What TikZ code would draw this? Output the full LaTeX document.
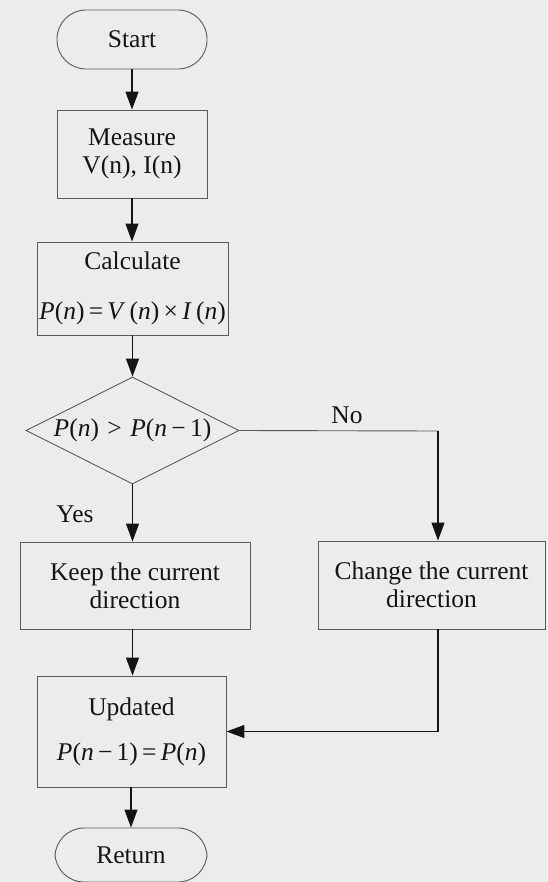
\documentclass[tikz,border=0pt]{standalone}
\usepackage{fontspec}
\setmainfont{Liberation Serif}
\usetikzlibrary{shapes.geometric,arrows.meta}
\definecolor{paper}{RGB}{236,236,236}
\definecolor{edge}{RGB}{90,90,90}
\definecolor{ink}{RGB}{20,20,20}
\newcommand{\vv}[1]{\textit{#1}}
\begin{document}
\begin{tikzpicture}[x=1pt,y=-1pt,
  every node/.style={font=\fontsize{25.5}{28}\selectfont, text=ink},
  procbox/.style={draw=edge, line width=0.9pt, rectangle, align=center, inner sep=0pt},
  termbox/.style={draw=edge, line width=0.9pt, rectangle, rounded corners=29pt, inner sep=0pt},
  decbox/.style={draw=edge, line width=0.9pt, diamond, aspect=2, inner sep=0pt},
  flow/.style={draw=ink, line width=1.1pt, -{Triangle[length=18pt,width=13pt]}},
  plain/.style={draw=edge, line width=0.9pt}
]
% page
\fill[paper] (0,0) rectangle (547,882);
\useasboundingbox (0,0) rectangle (547,882);

% terminators and steps
\node[termbox, minimum width=150pt, minimum height=59pt] (start) at (132,39.5) {Start};
\node[procbox, minimum width=150pt, minimum height=88pt] (meas) at (132,154) {Measure\\V(n), I(n)};
\node[procbox, minimum width=191pt, minimum height=93pt] (calc) at (132.5,288.5)
  {Calculate\\[22pt]\vv{P}(\vv{n})\,=\,\vv{V}\,(\vv{n})\,×\,\vv{I}\,(\vv{n})};
\node[decbox, minimum width=213pt, minimum height=107pt] (dec) at (132.5,430.5)
  {\vv{P}(\vv{n})\,\,>\,\,\vv{P}(\vv{n}\,−\,1)};
\node[procbox, minimum width=230pt, minimum height=87pt] (keep) at (135,585.5) {Keep the current\\direction};
\node[procbox, minimum width=227pt, minimum height=88pt] (chg) at (431.5,585) {Change the current\\direction};
\node[procbox, minimum width=189pt, minimum height=111pt] (upd) at (131.5,731.5)
  {Updated\\[17pt]\vv{P}(\vv{n}\,−\,1)\,=\,\vv{P}(\vv{n})};
\node[termbox, minimum width=152pt, minimum height=54pt] (ret) at (131,855) {Return};

% branch labels
\node (no) at (347,415) {No};
\node (yes) at (75,514) {Yes};

% connectors
\coordinate (nobend) at (438,431);
\draw[flow] (start.south) -- (meas.north);
\draw[flow] (meas.south) -- (calc.north -| meas.south);
\draw[flow] (calc.south -| dec.north) -- (dec.north);
\draw[flow] (dec.south) -- (dec.south |- keep.north);
\draw[plain] (dec.east) -- (nobend);
\draw[flow] (nobend) -- (nobend |- chg.north);
\draw[flow] (keep.south -| dec.south) -- (upd.north -| dec.south);
\draw[flow] (nobend |- chg.south) -- (nobend |- upd.east) -- (upd.east);
\draw[flow] (upd.south -| ret.north) -- (ret.north);
\end{tikzpicture}
\end{document}
